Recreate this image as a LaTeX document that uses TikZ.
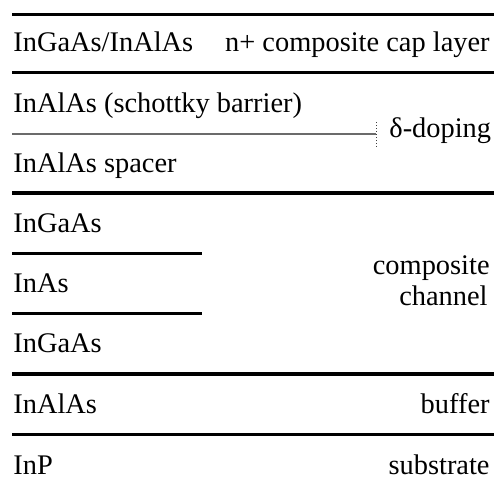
\documentclass[tikz,border=0pt]{standalone}
\usepackage{fontspec}
\setmainfont{Liberation Serif}
\usepackage{tikz}
\usetikzlibrary{positioning}

\begin{document}
\begin{tikzpicture}[x=0.5pt, y=-0.5pt, font=\fontsize{14.2}{16}\selectfont]
  \tikzstyle{bound}=[line width=1.75pt]
  \tikzstyle{lbl}=[inner sep=0pt, anchor=base west]
  \tikzstyle{rlbl}=[inner sep=0pt, anchor=base east]
\useasboundingbox (0,0) rectangle (494,486);
% interfaces across the whole stack
\foreach \y in {14.7,72.7,193,374,434.5}
    \draw[bound] (12,\y) -- (494,\y);
% interfaces inside the channel
\foreach \y in {253.5,313.5}
    \draw[bound] (12,\y) -- (202,\y);
% doping plane
    \coordinate (dstart) at (12,134);
    \coordinate (dend) at (376,134);
\draw[line width=1.3pt, black!58] (dstart) -- (dend);
\draw[densely dotted, line width=0.5pt, black!75] ([yshift=-6.5]dend) -- ([yshift=6.5]dend);
    \node[lbl] (doping) at (389,138) {δ-doping};
% layer names
    \node[lbl] (cap) at (13,51.7) {InGaAs/InAlAs};
    \node[rlbl] (capr) at (490,51.7) {n+ composite cap layer};
    \node[lbl] (barrier) at (13,113) {InAlAs (schottky barrier)};
    \node[lbl] (spacer) at (13,173) {InAlAs spacer};
    \node[lbl] (ch1) at (13,233) {InGaAs};
    \node[lbl] (ch2) at (13,293) {InAs};
    \node[lbl] (ch3) at (13,353) {InGaAs};
    \node[rlbl] (chan1) at (490,275) {composite};
    \node[rlbl] (chan2) at (488,306) {channel};
    \node[lbl] (buf) at (13,414) {InAlAs};
    \node[rlbl] (bufr) at (490,414) {buffer};
    \node[lbl] (sub) at (13,475) {InP};
    \node[rlbl] (subr) at (490,475) {substrate};
\end{tikzpicture}
\end{document}
